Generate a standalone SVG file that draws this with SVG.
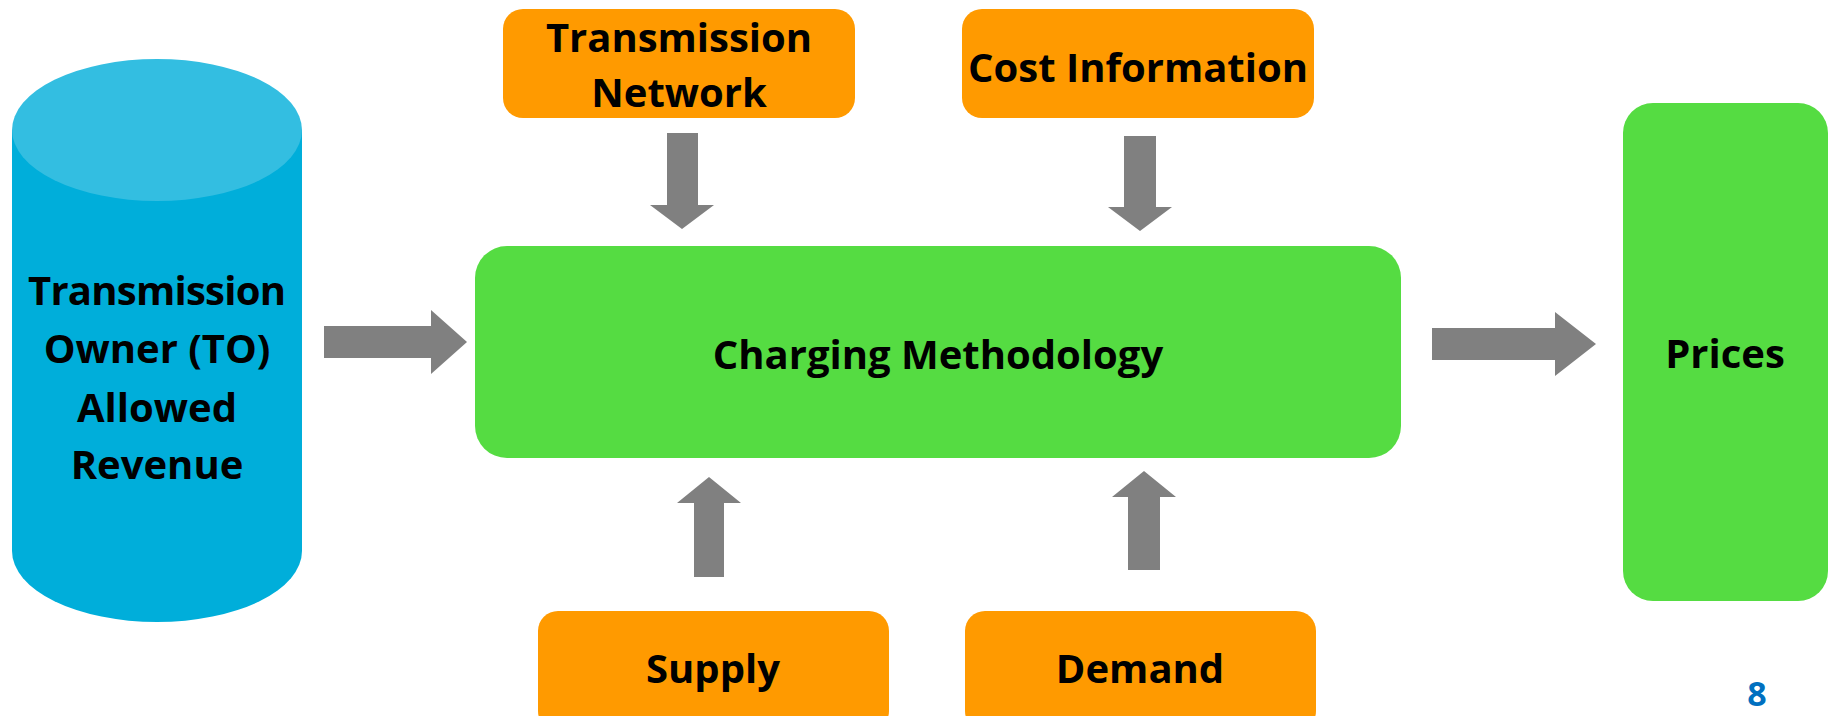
<svg xmlns="http://www.w3.org/2000/svg" width="1830" height="716" viewBox="0 0 1830 716">
  <style>
    .lbl { font-family: "Open Sans", "Liberation Sans", sans-serif; font-weight: bold; font-size: 40px; fill: #000; text-anchor: middle; }
    .orange { fill: #FF9A00; }
    .green { fill: #55DC42; }
    .arrow { fill: #808080; }
    .page { font-family: "Open Sans", "Liberation Sans", sans-serif; font-weight: bold; font-size: 34px; fill: #0070C0; text-anchor: middle; }
  </style>
  <rect width="1830" height="716" fill="#ffffff"/>

  <!-- Revenue store (cylinder) -->
  <g id="allowed-revenue">
    <path d="M12,130 L12,551 A145,71 0 0 0 302,551 L302,130 Z" fill="#00AEDA"/>
    <ellipse cx="157" cy="130" rx="145" ry="71" fill="#33BEE1"/>
    <text class="lbl" x="157" y="305" textLength="258">Transmission</text>
    <text class="lbl" x="157" y="363">Owner (TO)</text>
    <text class="lbl" x="157" y="422">Allowed</text>
    <text class="lbl" x="157" y="479">Revenue</text>
  </g>

  <g id="transmission-network">
    <rect class="orange" x="503" y="9" width="352" height="109" rx="20"/>
    <text class="lbl" x="679" y="52">Transmission</text>
    <text class="lbl" x="679" y="107">Network</text>
  </g>

  <g id="cost-information">
    <rect class="orange" x="962" y="9" width="352" height="109" rx="20"/>
    <text class="lbl" x="1138" y="82">Cost Information</text>
  </g>

  <g id="charging-methodology">
    <rect class="green" x="475" y="246" width="926" height="212" rx="32"/>
    <text class="lbl" x="938" y="369">Charging Methodology</text>
  </g>

  <g id="prices">
    <rect class="green" x="1623" y="103" width="205" height="498" rx="30"/>
    <text class="lbl" x="1725" y="368">Prices</text>
  </g>

  <g id="supply">
    <rect class="orange" x="538" y="611" width="351" height="120" rx="20"/>
    <text class="lbl" x="713" y="683">Supply</text>
  </g>

  <g id="demand">
    <rect class="orange" x="965" y="611" width="351" height="120" rx="20"/>
    <text class="lbl" x="1140" y="683">Demand</text>
  </g>

  <!-- Block arrows feeding into and out of the methodology -->
  <g id="connectors">
    <polygon class="arrow" points="324,326 431,326 431,310 467,342 431,374 431,358 324,358"/>
    <polygon class="arrow" points="1432,328 1555,328 1555,312 1596,344 1555,376 1555,360 1432,360"/>
    <polygon class="arrow" points="667,133 698,133 698,205 714,205 682,229 650,205 667,205"/>
    <polygon class="arrow" points="1124,136 1156,136 1156,207 1172,207 1140,231 1108,207 1124,207"/>
    <polygon class="arrow" points="694,577 724,577 724,503 741,503 709,477 677,503 694,503"/>
    <polygon class="arrow" points="1128,570 1160,570 1160,497 1176,497 1144,471 1112,497 1128,497"/>
  </g>

  <text class="page" x="1757" y="706">8</text>
</svg>
